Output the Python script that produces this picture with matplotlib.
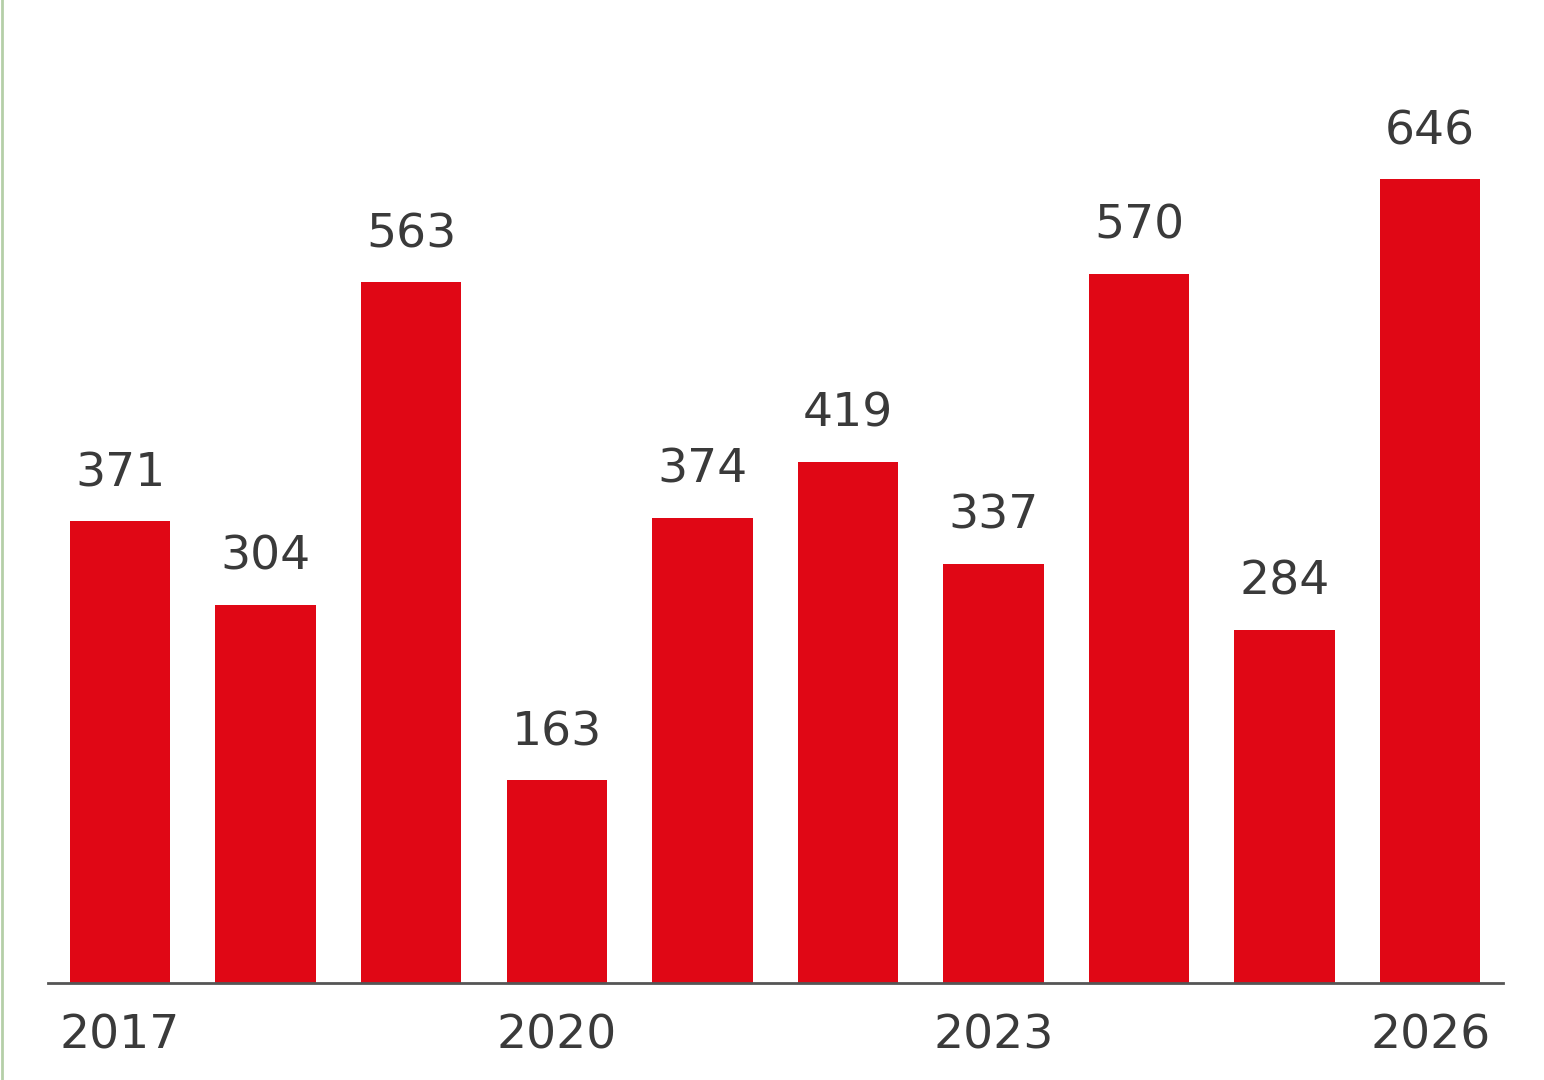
import numpy as np
import matplotlib.pyplot as plt

years = [2017, 2018, 2019, 2020, 2021, 2022, 2023, 2024, 2025, 2026]
values = [371, 304, 563, 163, 374, 419, 337, 570, 284, 646]
tick_years = [2017, 2020, 2023, 2026]

fig = plt.figure(figsize=(15.44, 10.8), dpi=100)
ax = fig.add_axes([48/1544, 97/1080, (1503-48)/1544, 983/1080])

x = np.arange(len(years))
bars = ax.bar(x, values, width=0.69, color='#e00715')
for xi, v in zip(x, values):
    ax.annotate(str(v), (xi, v), xytext=(0, 18), textcoords='offset points',
                ha='center', va='bottom', fontsize=34, color='#3a3a3a')

ax.set_xlim(-0.495, 9.5)
ax.set_ylim(0, 790)
ax.set_xticks([years.index(y) for y in tick_years], labels=[str(y) for y in tick_years])
ax.tick_params(axis='x', length=0, labelsize=34, labelcolor='#3a3a3a', pad=22)
ax.set_yticks([])
for s in ['top', 'right', 'left']:
    ax.spines[s].set_visible(False)
ax.spines['bottom'].set_color('#555555')
ax.spines['bottom'].set_linewidth(2)

# thin green frame line at left edge
fig.add_artist(plt.Line2D([0.0015, 0.0015], [0, 1], color='#b5cfa8', lw=2))

fig.savefig('out.png', dpi=100)
